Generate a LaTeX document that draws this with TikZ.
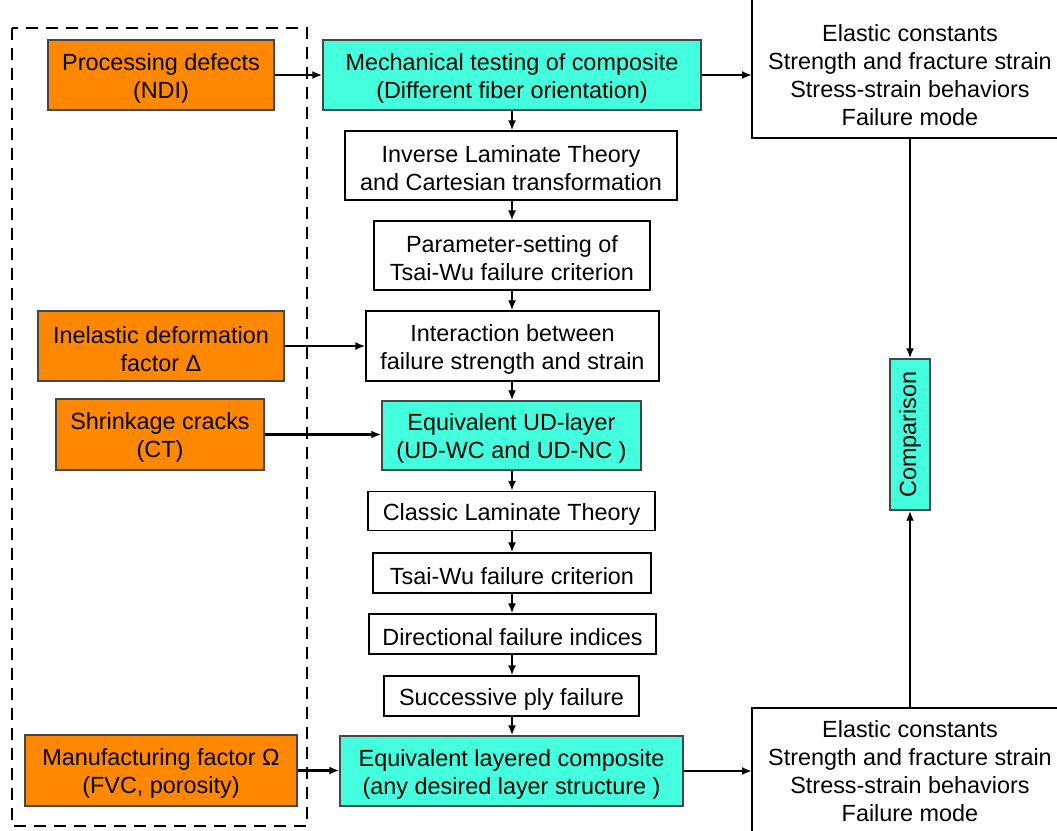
\documentclass[tikz,border=0pt]{standalone}
\usepackage{fontspec}
\setmainfont{Liberation Sans}
\usetikzlibrary{arrows.meta}
\definecolor{orbox}{RGB}{255,136,0}
\definecolor{cybox}{RGB}{68,255,222}
\definecolor{bordgray}{RGB}{70,70,70}
\newcommand\mystrut{\rule{0pt}{23pt}}
\begin{document}
\begin{tikzpicture}[x=1pt,y=-1pt,
  every node/.style={font=\fontsize{23.4}{28}\selectfont, align=center, inner sep=0pt},
  obox/.style={draw=bordgray, fill=orbox, line width=1.4pt},
  cbox/.style={draw=bordgray, fill=cybox, line width=1.4pt},
  wbox/.style={draw=black, fill=white, line width=1.2pt},
  arr/.style={line width=2.1pt, -{Latex[length=10pt,width=8pt]}}]
\clip (0,0) rectangle (1057,830);
\fill[white] (0,0) rectangle (1057,830);
% dashed frame
\draw[line width=2.5pt, dash pattern=on 12pt off 8pt] (12,28) rectangle (307,826);
% left column
\node[obox, minimum width=226pt, minimum height=70pt] (proc) at (161,75) {\mystrut Processing defects\\(NDI)};
\node[obox, minimum width=246pt, minimum height=70pt] (inel) at (161,346) {\mystrut Inelastic deformation\\factor Δ};
\node[obox, minimum width=208pt, minimum height=71pt] (shr) at (160,434.5) {\mystrut Shrinkage cracks\\(CT)};
\node[obox, minimum width=272pt, minimum height=71pt] (man) at (161,770.5) {\mystrut Manufacturing factor Ω\\(FVC, porosity)};
% central column
\node[cbox, minimum width=378pt, minimum height=70pt] (mech) at (512,75) {\mystrut Mechanical testing of composite\\(Different fiber orientation)};
\node[wbox, minimum width=332pt, minimum height=69pt] (inv) at (511,165.5) {\mystrut Inverse Laminate Theory\\and Cartesian transformation};
\node[wbox, minimum width=276pt, minimum height=69pt] (par) at (512,255.5) {\mystrut Parameter-setting of\\Tsai-Wu failure criterion};
\node[wbox, minimum width=293pt, minimum height=70pt] (int) at (512.5,346) {\mystrut Interaction between\\failure strength and strain};
\node[cbox, minimum width=259pt, minimum height=69pt] (udl) at (511.5,435.5) {\mystrut Equivalent UD-layer\\(UD-WC and UD-NC )};
\node[wbox, minimum width=287pt, minimum height=39pt] (clt) at (511.5,511) {\mystrut Classic Laminate Theory};
\node[wbox, minimum width=278pt, minimum height=40pt] (tw) at (512,573) {\mystrut Tsai-Wu failure criterion};
\node[wbox, minimum width=287pt, minimum height=40pt] (dfi) at (512.5,634) {\mystrut Directional failure indices};
\node[wbox, minimum width=255pt, minimum height=40pt] (spf) at (511.5,696) {\mystrut Successive ply failure};
\node[cbox, minimum width=343pt, minimum height=70pt] (elc) at (511.5,771) {\mystrut Equivalent layered composite\\(any desired layer structure )};
% right column
\draw[line width=1.2pt, fill=white] (752,-10) rectangle (1068,138);
\node (tr) at (910,75) {Elastic constants\\Strength and fracture strain\\Stress-strain behaviors\\Failure mode};
\coordinate (trb) at (910,138);
\draw[line width=1.2pt, fill=white] (752,708) rectangle (1068,850);
\node (br) at (910,771.5) {Elastic constants\\Strength and fracture strain\\Stress-strain behaviors\\Failure mode};
\coordinate (brt) at (910,708);
\coordinate (trl) at (752,75);
\coordinate (brl) at (752,771);
\node[cbox, rotate=90, minimum width=151pt, minimum height=40pt] (cmp) at (910,434.5) {Comparison};
% vertical arrows
\foreach \a/\b in {mech/inv, inv/par, par/int, int/udl, udl/clt, clt/tw, tw/dfi, dfi/spf, spf/elc}
  \draw[arr] (\a.south -| 512,0) -- (\b.north -| 512,0);
% horizontal arrows
\draw[arr] (proc.east) -- (mech.west);
\draw[arr] (inel.east) -- (inel.east -| int.west);
\draw[arr] (shr.east) -- (shr.east -| udl.west);
\draw[arr] (man.east) -- (man.east -| elc.west);
\draw[arr] (mech.east) -- (trl);
\draw[arr] (elc.east) -- (brl);
\draw[arr] (trb) -- (cmp);
\draw[arr] (brt) -- (cmp);
\end{tikzpicture}
\end{document}
